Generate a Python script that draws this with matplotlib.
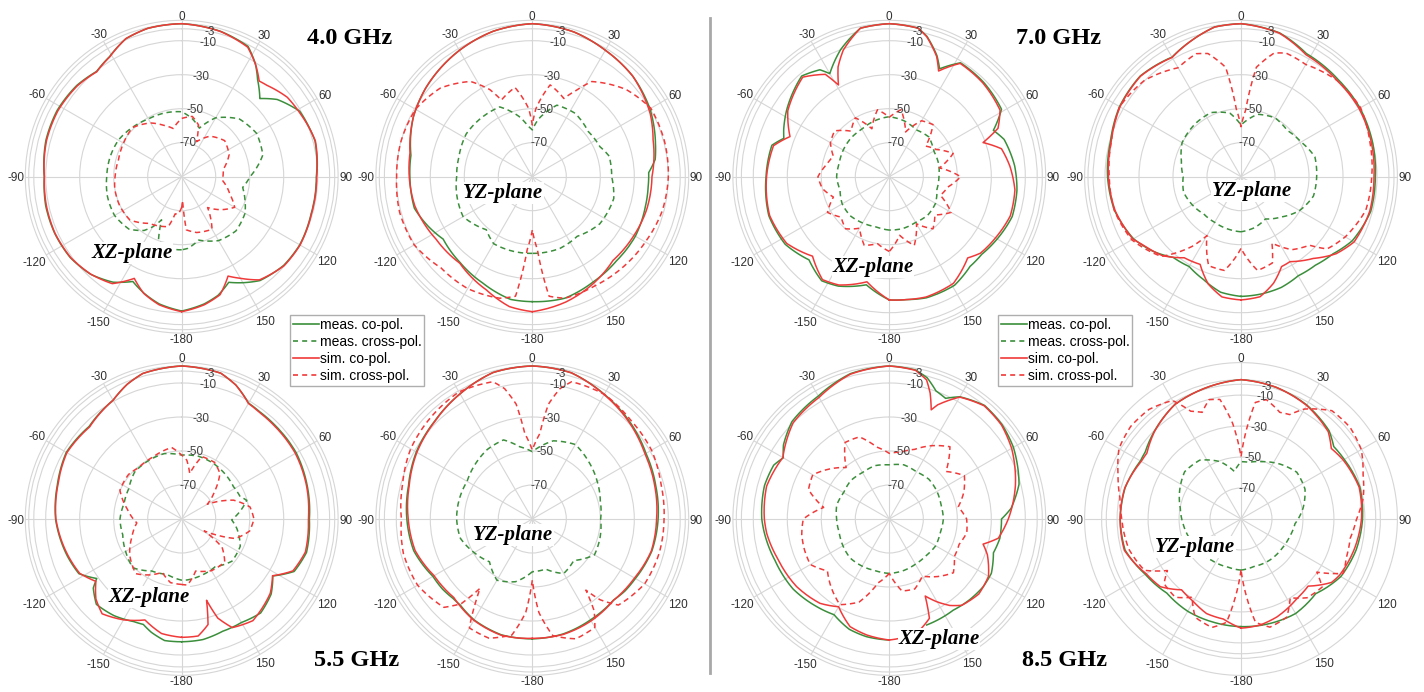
import numpy as np
import matplotlib
matplotlib.use("Agg")
import matplotlib.pyplot as plt
from matplotlib.lines import Line2D

W, H = 1424, 692
GREEN = "#3b8e3b"
RED = "#f03a3a"
GRID = "#d6d6d6"

# ---------------- 4.0 GHz, XZ-plane (angle deg, dB) ----------------
xz40_meas_co = [(-180,-11),(-170,-14),(-162,-18),(-155,-22),(-147,-16),(-137,-11.5),(-126,-9),(-114,-8.2),
                (-102,-8.2),(-90,-9.2),(-75,-7.3),(-62,-7),(-49,-8.2),(-39,-10.4),(-31,-7.6),(-22,-2.4),(-13,-0.5),
                (0,0),(15,-1.5),(27,-4),(33,-10.5),(38,-17.5),(45,-25),(51,-17.8),(61,-10.6),(75,-8.8),(90,-10.8),
                (106,-10.8),(120,-9.8),(131,-10.5),(143,-13.5),(150,-18),(156,-22),(163,-17),(170,-14),(180,-11)]
xz40_meas_x = [(-180,-47),(-170,-47),(-160,-50),(-155,-62),(-150,-56),(-145,-51.4),(-135,-46.3),(-120,-44.4),
               (-105,-44.8),(-90,-45.9),(-75,-46.3),(-60,-47),(-45,-49),(-30,-50.8),(-15,-51.2),(0,-51.8),(10,-55.2),
               (20,-59.6),(30,-50),(45,-42),(60,-39.1),(75,-40.6),(90,-49.8),(100,-53.6),(110,-50.4),(120,-47),
               (135,-44.9),(150,-46.6),(165,-51.4),(175,-47.7),(180,-47)]
xz40_sim_co = [(-180,-10.6),(-170,-13.5),(-162,-17.8),(-155,-24),(-147,-15),(-137,-11.6),(-126,-9.2),(-114,-8.4),
               (-102,-8.6),(-90,-9.2),(-75,-7.7),(-62,-7.5),(-49,-8.6),(-39,-10.6),(-31,-7.8),(-22,-2.4),(-13,-0.5),
               (0,0),(15,-1.6),(27,-4.5),(34,-11.7),(39,-17.6),(43,-16.5),(53,-12.3),(62,-11),(75,-8.6),(90,-10.6),
               (106,-10.6),(120,-9.6),(131,-10.2),(143,-14),(150,-21),(155,-25.5),(162,-17),(170,-13.5),(180,-10.6)]
xz40_sim_x = [(-180,-72),(-175,-68),(-170,-67.8),(-165,-59.6),(-155,-58),(-145,-56.5),(-130,-50.3),(-115,-49.7),
              (-100,-50),(-90,-50.8),(-75,-51.5),(-60,-50.5),(-45,-49.1),(-30,-53.5),(-20,-57.7),(-10,-61.2),(0,-55.7),
              (10,-54),(18,-58),(23,-67.6),(35,-60.9),(50,-57),(65,-59.2),(80,-65.2),(95,-66),(110,-59.8),(120,-54),
              (130,-59.8),(140,-66.3),(150,-54.3),(165,-56),(175,-58.6),(178,-76),(180,-72)]

# ---------------- 4.0 GHz, YZ-plane ----------------
yz40_meas_co = [(-180,-16.5),(-170,-16.7),(-155,-21),(-140,-24),(-125,-26),(-115,-22),(-105,-18.2),(-90,-18),
                (-80,-17.5),(-63,-11.6),(-50,-8.4),(-30,-4.2),(-15,-1.4),(0,0),(16,-1.4),(30,-4.1),(45,-6.4),
                (60,-10.1),(75,-15),(82,-17),(88,-21.5),(95,-21.6),(105,-21.2),(120,-20),(135,-20),(150,-18.5),
                (165,-16),(180,-16.5)]
yz40_meas_x = [(-180,-44.9),(-165,-44.7),(-150,-44.5),(-139,-48.7),(-120,-43),(-102,-44.4),(-90,-45.5),(-75,-45.3),
               (-57,-43.7),(-38,-44.3),(-25,-44.7),(-12,-54),(-5,-60),(0,-62.5),(6,-56),(19,-45.5),(34,-45),
               (51,-47.7),(66,-46.5),(75,-43.2),(90,-43.3),(105,-40.4),(125,-41.6),(143,-46.1),(159,-44.8),(180,-44.9)]
yz40_sim_co = [(-180,-10.6),(-170,-12.4),(-158,-18.1),(-140,-23.6),(-123,-22.5),(-104,-18.8),(-90,-17.6),(-79,-16.7),
               (-63,-11.6),(-50,-8.4),(-30,-4.2),(-15,-1.4),(0,0),(16,-1.4),(30,-4.1),(45,-6.4),(62,-11.4),(73,-15.7),
               (90,-19.6),(106,-20),(121,-21),(136,-21.6),(150,-17.7),(165,-13.7),(180,-10.6)]
yz40_sim_x = [(-180,-58.6),(-176,-47),(-172,-19),(-165,-16),(-150,-14),(-135,-14.1),(-120,-9.8),(-105,-9.2),
              (-90,-10.2),(-75,-10),(-60,-10.7),(-46,-14.9),(-33,-23.2),(-26,-33),(-22,-41.4),(-11,-36.5),(-3,-50),
              (0,-59.6),(3,-50),(11,-35),(22,-40.4),(27,-33),(32,-24),(47,-14.7),(60,-9.5),(75,-9.5),(90,-10),
              (105,-11),(119,-13.1),(135,-14.7),(150,-16),(165,-16),(172,-19),(176,-47),(180,-58.6)]

# ---------------- 5.5 GHz, XZ-plane ----------------
xz55_meas_co = [(-180,-17.8),(-172,-17.8),(-165,-21),(-160,-24),(-155,-23.4),(-145,-20.6),(-135,-19),(-128,-24),
                (-125,-29),(-118,-21.5),(-108,-19.3),(-90,-15.8),(-75,-14.2),(-60,-11.6),(-45,-13),(-30,-9.3),
                (-22,-4.5),(-15,-1.4),(0,0),(15,-1.2),(22,-5),(30,-11.3),(36,-12),(45,-12.2),(60,-12.2),(75,-13.6),
                (90,-14.9),(105,-14),(115,-17),(122,-26.8),(130,-21.3),(140,-17.8),(150,-19.7),(160,-19.7),
                (170,-18),(180,-17.8)]
xz55_meas_x = [(-180,-54),(-165,-56.3),(-150,-54.7),(-135,-49.4),(-120,-51.9),(-105,-54.1),(-90,-53.7),(-75,-54.9),
               (-60,-54.1),(-45,-50.9),(-30,-50.5),(-15,-50.2),(0,-52.4),(15,-51.8),(30,-52.4),(58,-54.1),(69,-53.2),
               (74,-50.2),(91,-60.6),(100,-57),(115,-52),(130,-51.4),(145,-55.7),(160,-54.9),(175,-54),(180,-54)]
xz55_sim_co = [(-180,-20.4),(-170,-21.6),(-160,-26.8),(-150,-21.5),(-140,-17.2),(-133,-21),(-126,-27.6),(-118,-22),
               (-108,-19.8),(-90,-16),(-75,-14.5),(-60,-12),(-45,-13.4),(-30,-9.3),(-22,-4.5),(-15,-1.4),(0,0),
               (15,-1.2),(22,-5),(30,-11.5),(36,-12.4),(45,-12.7),(60,-12.8),(75,-14),(90,-15.5),(105,-14.7),
               (115,-17.8),(122,-27),(130,-22),(145,-17),(155,-19.5),(160,-28),(163,-40),(166,-26),(172,-20.5),
               (180,-20.4)]
xz55_sim_x = [(-180,-51.5),(-170,-52),(-160,-56.6),(-150,-52),(-140,-48),(-125,-52.7),(-110,-58.8),(-95,-63.5),
              (-80,-57.6),(-65,-49.9),(-50,-49.2),(-40,-50.6),(-25,-49.8),(-8,-47.5),(0,-52.4),(5,-55.3),(10,-62.8),
              (18,-51.4),(30,-51.5),(40,-55),(50,-64.7),(60,-72.6),(70,-57.6),(80,-49.2),(90,-47.5),(100,-49.4),
              (110,-56.4),(118,-75),(125,-61),(135,-54.2),(150,-54.9),(165,-58.3),(175,-51),(180,-51.5)]

# ---------------- 5.5 GHz, YZ-plane ----------------
yz55_meas_co = [(-180,-19.5),(-165,-19.5),(-150,-21.5),(-140,-24),(-135,-24),(-128,-23),(-120,-22.5),(-105,-17.8),
                (-90,-16.2),(-75,-14.6),(-60,-11.2),(-45,-8.7),(-30,-5),(-15,-0.8),(0,0),(15,-1),(30,-5.3),(45,-9),
                (60,-12.8),(75,-14.8),(90,-16),(105,-17.2),(120,-20),(128,-21),(135,-22.5),(150,-21.5),(165,-20),
                (180,-19.5)]
yz55_meas_x = [(-180,-59),(-165,-51.8),(-150,-48.4),(-135,-54.4),(-120,-50.5),(-105,-46.2),(-90,-45.5),(-75,-45.5),
               (-60,-45.7),(-33,-41.3),(-20,-40.5),(-10,-46.8),(0,-50.4),(15,-42.4),(30,-39.4),(45,-42.8),(60,-45.9),
               (75,-48.6),(90,-49.8),(105,-48.7),(120,-47.8),(135,-55.5),(150,-53),(165,-59.5),(180,-59)]
yz55_sim_co = [(-180,-19.8),(-165,-19.2),(-150,-21.2),(-135,-24.7),(-120,-23.3),(-105,-18.6),(-90,-17),(-75,-15),
               (-60,-11.6),(-45,-8.9),(-30,-5),(-15,-0.8),(0,0),(15,-1),(30,-5.5),(45,-9.5),(60,-13.5),(75,-15.4),
               (90,-16.9),(105,-17.5),(120,-20.6),(135,-22.4),(150,-20.8),(165,-19.7),(180,-19.8)]
yz55_sim_x = [(-180,-54),(-176,-35),(-170,-20.7),(-160,-15.4),(-150,-16),(-146,-30),(-143,-39),(-140,-25),
              (-135,-16.5),(-120,-12.1),(-105,-11.5),(-90,-13),(-75,-11),(-60,-7.4),(-45,-5.5),(-30,-3.7),(-16,-6),
              (-12,-11.6),(-8,-21.8),(-5,-39.6),(0,-49.4),(5,-39.6),(8,-21.8),(12,-11.6),(16,-6),(30,-5.3),(45,-8),
              (60,-9),(75,-11.6),(90,-12.5),(105,-12.7),(120,-13.7),(135,-18.4),(140,-28),(143,-37.6),(146,-25),
              (150,-16.4),(160,-15),(170,-20.3),(176,-35),(180,-54)]

# ---------------- 7.0 GHz, XZ-plane ----------------
xz70_meas_co = [(-180,-17.5),(-168,-25),(-155,-19),(-147,-17),(-136,-22),(-123,-17),(-108,-15.5),(-90,-17.5),
                (-75,-18.5),(-70,-24),(-66,-22),(-57,-18),(-41,-11.5),(-33,-15),(-30,-20),(-21,-10),(-11,-1),(0,0),
                (11,-1),(15,-4.5),(21.5,-13.5),(25,-20),(32,-11),(45,-11.5),(59,-13),(66,-23),(72,-19),(85,-16),
                (96,-14.5),(108,-14),(119,-16.5),(130,-19),(138,-19),(149,-15.5),(163,-15.5),(172,-17),(180,-17.5)]
xz70_meas_x = [(-180,-58.6),(-165,-59.5),(-150,-58.6),(-135,-57.5),(-120,-58),(-105,-60),(-90,-59),(-75,-59.5),
               (-60,-58.7),(-45,-58),(-30,-57.7),(-15,-56),(0,-54.7),(15,-56),(30,-58.2),(45,-57),(60,-59.8),
               (75,-60),(90,-60.8),(105,-61),(120,-58.6),(135,-58),(150,-59),(165,-58.5),(180,-58.6)]
xz70_sim_co = [(-180,-17.5),(-168,-26.8),(-155,-19.7),(-147,-17.8),(-136,-25),(-123,-18),(-108,-16),(-90,-17.8),
               (-75,-19.5),(-68,-27),(-57,-18.8),(-41,-12.4),(-32,-19),(-29,-28.3),(-25,-18.7),(-20,-10.8),(-11,-1),
               (0,0),(11,-1),(15,-4.8),(21.5,-14),(25,-21.4),(32,-11.4),(45,-12.1),(59,-14),(66,-20),(70,-31.3),
               (76,-22),(85,-18.8),(96,-15.7),(108,-15.2),(119,-17.7),(130,-20),(136,-23.6),(149,-16.8),(163,-16),
               (172,-17),(180,-17.5)]
xz70_sim_x = [(-180,-46),(-170,-50),(-160,-47),(-150,-55),(-140,-50),(-130,-53),(-120,-48),(-110,-55),(-100,-50),
              (-90,-48),(-80,-52),(-70,-55),(-60,-50),(-50,-48),(-40,-55),(-30,-50),(-20,-60),(-10,-50),(0,-55),
              (10,-50),(20,-62),(30,-52),(40,-50),(50,-62),(60,-58),(70,-50),(80,-60),(90,-48),(100,-55),(110,-58),
              (120,-48),(130,-55),(140,-50),(150,-58),(160,-47),(170,-55),(180,-46)]

# ---------------- 7.0 GHz, YZ-plane ----------------
yz70_meas_co = [(-180,-19.6),(-170,-21),(-160,-25.6),(-150,-29),(-140,-28),(-130,-22),(-120,-17),(-105,-13),
                (-90,-11.5),(-75,-10.5),(-60,-7.5),(-45,-6.2),(-30,-8.8),(-20,-4.8),(-10,-0.6),(0,0),(15,-2.4),
                (28,-8),(45,-9.2),(60,-9.2),(75,-10),(90,-11),(105,-11),(120,-14.5),(130,-19.4),(140,-22),
                (150,-22.7),(160,-20.7),(170,-20),(180,-19.6)]
yz70_meas_x = [(-180,-57.6),(-150,-59),(-135,-59),(-120,-56.9),(-105,-55),(-90,-56),(-75,-53.7),(-60,-50),
               (-40,-48.8),(-25,-48.4),(-10,-52),(0,-59.6),(15,-52),(30,-50),(45,-51.5),(60,-49.2),(75,-45),
               (90,-45.5),(105,-45.9),(120,-50.2),(135,-56.5),(150,-61.3),(165,-59),(180,-57.6)]
yz70_sim_co = [(-180,-17.5),(-171,-18.4),(-163,-24),(-155,-33.1),(-145,-31.8),(-135,-24.4),(-125,-19.9),
               (-120,-16.6),(-105,-13.3),(-90,-12),(-75,-11),(-60,-7.8),(-45,-6.4),(-30,-9),(-20,-4.8),(-10,-0.6),
               (0,0),(15,-2.6),(28,-8.7),(45,-10),(60,-9.8),(75,-10.7),(90,-11.8),(105,-11.6),(120,-13.2),
               (129,-18),(138.5,-25.8),(150,-32.3),(155.7,-32),(163,-24.5),(171,-18.5),(180,-17.5)]
yz70_sim_x = [(-180,-47.8),(-170,-34),(-160,-34.3),(-150,-50),(-145,-40),(-135,-23.7),(-120,-15.8),(-105,-12.9),
              (-90,-12.5),(-75,-11),(-60,-7.6),(-45,-9.8),(-30,-16),(-20,-13),(-15,-15),(-8,-25),(-4,-50),(0,-60.6),
              (4,-50.7),(8,-25),(15,-14.7),(20,-12.6),(30,-13.8),(45,-10),(60,-8.8),(75,-11.5),(90,-13.1),
              (105,-14),(120,-19.2),(130,-23.9),(135,-33),(145,-37.6),(155,-46.9),(160,-36),(170,-34),(180,-47.8)]

# ---------------- 8.5 GHz, XZ-plane ----------------
xz85_meas_co = [(-180,-18.8),(-169,-19.5),(-160,-21),(-150,-25),(-140,-23),(-126,-20),(-110,-18.5),(-96,-16),
                (-90,-15),(-75,-14),(-65,-15),(-60,-18),(-55,-14),(-45,-9),(-30,-6.5),(-15,-1.5),(0,0),(10,-1),
                (15,-4),(20,-9.8),(25,-11.7),(30,-7),(40,-2.8),(50,-3.5),(60,-5.7),(75,-11),(85,-18.1),(90,-24),
                (100,-24),(108,-25.6),(118,-22),(125.7,-21.9),(135,-23),(145,-24.5),(160.6,-23.9)]
xz85_meas_x = [(-180,-58),(-165,-58.5),(-150,-58),(-135,-57.5),(-120,-58.5),(-105,-59.5),(-90,-59),(-75,-58),
               (-60,-59),(-45,-58),(-30,-58.5),(-15,-57.5),(0,-58.2),(15,-57),(30,-58),(45,-57),(60,-57.6),
               (75,-58.5),(90,-58.2),(105,-59),(120,-58.5),(135,-59.5),(150,-59.3),(165,-58.5),(180,-58)]
xz85_sim_co = [(-180,-18.8),(-169,-20.5),(-160,-22.6),(-150,-30.4),(-140.6,-25.8),(-126,-22.5),(-110,-20.4),
               (-96.7,-17.4),(-90,-16.5),(-75,-15.3),(-60,-17.7),(-45,-10),(-30,-7.4),(-15,-1.8),(0,0),(10,-1.2),
               (15,-5.3),(18,-12.2),(21,-21.2),(23,-17),(30,-7.2),(40,-3.1),(50,-3.9),(60,-6.9),(75,-13.2),(90,-20),
               (100,-24.9),(105,-32.9),(110,-28.6),(120,-22.6),(130,-21.3),(140,-23.7),(145,-27.9),(150,-33.7),
               (155,-40),(158,-27),(165,-22),(172,-20),(180,-18.8)]
xz85_sim_x = [(-180,-58),(-170,-51.8),(-160,-38),(-150,-31.8),(-140,-37),(-130,-42.5),(-120,-36.4),(-110,-36.9),
              (-100,-37.7),(-90,-39.4),(-80,-50.8),(-70,-39.4),(-60,-38),(-50,-44.2),(-40,-50.5),(-30,-38),
              (-20,-38.6),(-10,-47),(0,-51.4),(10,-50),(20,-46.4),(30,-40.2),(40,-34.5),(50,-46.5),(60,-39),
              (70,-43.3),(80,-48.8),(90,-44.5),(100,-43.7),(110,-46.3),(120,-45.8),(130,-40.8),(140,-45.8),
              (150,-51.2),(160,-46.2),(170,-47),(180,-58)]

# ---------------- 8.5 GHz, YZ-plane ----------------
yz85_meas_co = [(-180,-20.5),(-165,-21),(-150,-21.2),(-135,-22.3),(-120,-18.6),(-105,-12.5),(-90,-12),(-75,-12.5),
                (-60,-15),(-55,-14.5),(-45,-10.5),(-30,-4.6),(-15,-2.3),(0,0),(15,-2),(30,-5),(45,-9.5),(52,-14),
                (60,-13),(75,-10.5),(90,-11.5),(105,-13),(120,-15.6),(135,-21.8),(150,-19.5),(165,-20),(180,-20.5)]
yz85_meas_x = [(-180,-57),(-165,-57.8),(-145,-57.3),(-125,-55.6),(-110,-54.4),(-95,-52.5),(-80,-50.2),(-65,-46.3),
               (-50,-42.5),(-35,-43.6),(-20,-50.6),(-8,-59),(0,-53),(8,-53),(20,-50.6),(35,-46.6),(50,-43),
               (65,-44.4),(80,-49.3),(95,-55),(110,-56.6),(125,-57.4),(145,-57.6),(165,-58.2),(180,-57)]
yz85_sim_co = [(-180,-19.5),(-170,-24.4),(-160,-25),(-150,-28.5),(-140,-30.3),(-130,-22),(-120,-19.3),(-105,-12),
               (-90,-11.9),(-75,-12.3),(-60,-15.6),(-55,-15.8),(-45,-10.7),(-30,-4.6),(-15,-2.3),(0,0),(15,-2),
               (30,-5.3),(45,-10.3),(52,-16),(60,-13.8),(75,-11),(90,-12.2),(105,-14.3),(120,-16.8),(125,-18.6),
               (135,-28.7),(145,-27.2),(150,-25.7),(160,-22.6),(170,-20.4),(180,-19.5)]
yz85_sim_x = [(-180,-57),(-176,-40),(-172,-22.6),(-165,-17.5),(-155,-20),(-148,-30.4),(-140,-24),(-130,-25.1),
              (-125,-32),(-118,-19.4),(-105,-15),(-90,-13),(-80,-10.6),(-70,-5.5),(-60,1),(-50,3),(-40,2.4),
              (-30,-1.6),(-25,-13.2),(-20,-16.7),(-15,-10.2),(-10,-11.6),(-5,-28),(0,-49.8),(3,-34.7),(7,-14.2),
              (12,-11.2),(20,-16.7),(25,-15.6),(30,-8),(40,1.3),(50,2),(60,-0.3),(70,-6.1),(80,-9.8),(90,-15.4),
              (100,-18.4),(110,-17.6),(118,-15.2),(125,-30.2),(130,-21.6),(140,-23.6),(148,-30),(155,-20.1),
              (165,-17.7),(172,-22.6),(176,-40),(180,-57)]

ANGLE_TICKS = [0, 30, 60, 90, 120, 150, 180, 210, 240, 270, 300, 330]
ANGLE_LABELS = ["0", "30", "60", "90", "120", "150", "-180", "-150", "-120", "-90", "-60", "-30"]
R_TICKS = [-70, -50, -30, -10, -3, 0]
R_LABELS = ["-70", "-50", "-30", "-10", "-3"]

# panel layout: centre (px), radial maximum (dB), curves
panels = [
    dict(c=(181.7, 176.7), rmax=2, data=(xz40_meas_co, xz40_meas_x, xz40_sim_co, xz40_sim_x)),
    dict(c=(532.3, 176.7), rmax=2, data=(yz40_meas_co, yz40_meas_x, yz40_sim_co, yz40_sim_x)),
    dict(c=(181.7, 519.0), rmax=2, data=(xz55_meas_co, xz55_meas_x, xz55_sim_co, xz55_sim_x)),
    dict(c=(532.3, 519.0), rmax=2, data=(yz55_meas_co, yz55_meas_x, yz55_sim_co, yz55_sim_x)),
    dict(c=(889.3, 176.7), rmax=2, data=(xz70_meas_co, xz70_meas_x, xz70_sim_co, xz70_sim_x)),
    dict(c=(1241.0, 176.7), rmax=2, data=(yz70_meas_co, yz70_meas_x, yz70_sim_co, yz70_sim_x)),
    dict(c=(889.3, 519.0), rmax=2, data=(xz85_meas_co, xz85_meas_x, xz85_sim_co, xz85_sim_x)),
    dict(c=(1241.0, 519.0), rmax=11, data=(yz85_meas_co, yz85_meas_x, yz85_sim_co, yz85_sim_x)),
]
R_PX = 156.4
RMIN = -90
LABEL_FS = 8.5

DASH = (0, (3.5, 2.5))
STYLES = [(GREEN, "-"), (GREEN, DASH), (RED, "-"), (RED, DASH)]

plt.rcParams["font.family"] = ["Liberation Sans", "DejaVu Sans"]
fig = plt.figure(figsize=(W / 100, H / 100), dpi=100)


def label_extent(txt):
    # approximate pixel width / cap height of a tick label at LABEL_FS
    em = LABEL_FS * 100 / 72
    w = sum(0.333 * em if ch == "-" else 0.556 * em for ch in txt)
    return w, 0.72 * em


for p in panels:
    cx, cy = p["c"]
    ax = fig.add_axes([(cx - R_PX) / W, (H - cy - R_PX) / H, 2 * R_PX / W, 2 * R_PX / H],
                      projection="polar")
    ax.set_theta_zero_location("N")
    ax.set_theta_direction(-1)
    ax.set_ylim(RMIN, p["rmax"])
    ax.set_thetagrids(ANGLE_TICKS, [""] * len(ANGLE_TICKS))
    ax.set_rgrids(R_TICKS, [""] * len(R_TICKS))
    ax.grid(True, color=GRID, lw=0.8)
    ax.spines["polar"].set_color(GRID)
    ax.spines["polar"].set_linewidth(0.8)
    ax.tick_params(axis="both", length=0)
    for curve, (col, ls) in zip(p["data"], STYLES):
        ang = np.deg2rad([a for a, _ in curve])
        val = [v for _, v in curve]
        ln, = ax.plot(ang, val, color=col, ls=ls, lw=1.1)
        # draw each segment as a polar segment (linear in angle and radius)
        ln.get_path()._interpolation_steps = 16
    # radial labels sit on their rings, just clockwise of the 0 deg spoke
    for rv, rl in zip(R_TICKS, R_LABELS):
        ax.text(np.deg2rad(11), rv, rl, fontsize=LABEL_FS, color="#404040", ha="center", va="center")
    # angle labels just outside the rim
    for a, t in zip(ANGLE_TICKS, ANGLE_LABELS):
        w, h = label_extent(t)
        s, c = np.sin(np.deg2rad(a)), np.cos(np.deg2rad(a))
        r = R_PX + 1 + 0.5 * (abs(s) * w + abs(c) * h)
        fig.text((cx + r * s) / W, 1 - (cy - r * c) / H, t, fontsize=LABEL_FS, color="#303030",
                 ha="center", va="center_baseline")

# frequency captions
serif = ["Liberation Serif", "DejaVu Serif"]
for txt, x, y in [("4.0 GHz", 350, 39), ("5.5 GHz", 357, 661), ("7.0 GHz", 1058, 39), ("8.5 GHz", 1065, 661)]:
    fig.text(x / W, 1 - y / H, txt, family=serif, weight="bold", fontsize=17.5, ha="center", va="center")

# plane captions
for txt, x, y in [("XZ-plane", 132, 253), ("YZ-plane", 503, 193), ("XZ-plane", 149, 597), ("YZ-plane", 513, 535),
                  ("XZ-plane", 873, 267), ("YZ-plane", 1252, 191), ("XZ-plane", 939, 639), ("YZ-plane", 1195, 547)]:
    fig.text(x / W, 1 - y / H, txt, family=serif, weight="bold", style="italic", fontsize=15,
             ha="center", va="center",
             bbox=dict(facecolor="white", edgecolor="none", pad=0.5))

# legends
handles = [Line2D([], [], color=GREEN, lw=1.2), Line2D([], [], color=GREEN, lw=1.2, ls=(0, (3, 2.5))),
           Line2D([], [], color=RED, lw=1.2), Line2D([], [], color=RED, lw=1.2, ls=(0, (3, 2.5)))]
names = ["meas. co-pol.", "meas. cross-pol.", "sim. co-pol.", "sim. cross-pol."]
for x0, y0 in [(290, 315), (998, 315)]:
    leg = fig.legend(handles, names, loc="upper left", bbox_to_anchor=(x0 / W, 1 - y0 / H),
                     fontsize=10, frameon=True, fancybox=False, handlelength=1.9, handletextpad=0.05,
                     labelspacing=0.22, borderpad=0.2, borderaxespad=0)
    leg.get_frame().set_edgecolor("#9a9a9a")
    leg.get_frame().set_linewidth(1.0)

# separator between the two frequency groups
fig.add_artist(Line2D([710 / W, 710 / W], [1 - 18 / H, 1 - 673 / H], color="#a8a8a8", lw=2))

fig.savefig("out.png", dpi=100)
